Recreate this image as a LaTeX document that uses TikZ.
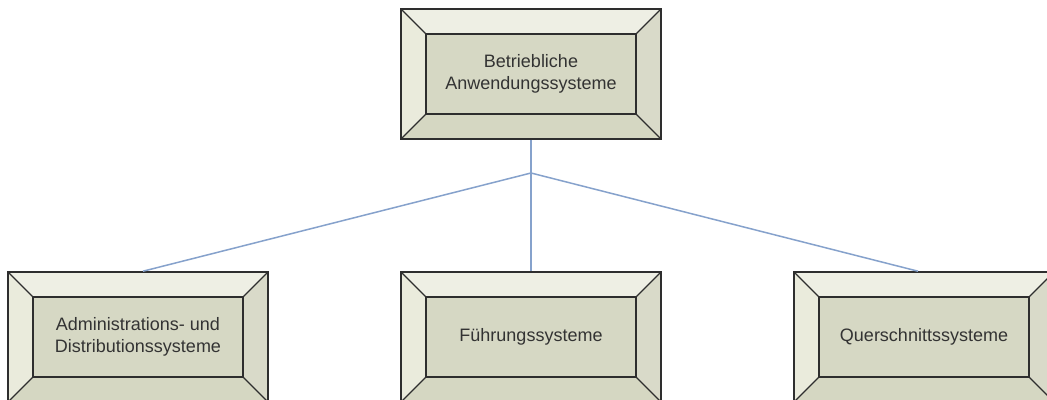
\documentclass[tikz,border=0pt]{standalone}
\usepackage{fontspec}
\setmainfont{Liberation Sans}
\definecolor{bevtop}{HTML}{EEEFE4}
\definecolor{bevleft}{HTML}{EAEBDC}
\definecolor{bevright}{HTML}{D9DAC9}
\definecolor{bevbot}{HTML}{D5D7C2}
\definecolor{innerfill}{HTML}{D6D8C4}
\definecolor{edgecol}{HTML}{2E2E2E}
\definecolor{conncol}{HTML}{86A2CC}
\definecolor{txtcol}{HTML}{333333}
\tikzset{
  outerbox/.style={draw=edgecol, line width=1.6pt, minimum width=260pt, minimum height=130pt, inner sep=0pt},
  innerbox/.style={draw=edgecol, line width=1.4pt, fill=innerfill, minimum width=210pt, minimum height=80pt, inner sep=0pt, align=center, text=txtcol, font=\fontsize{18}{21.7}\selectfont},
  diag/.style={draw=edgecol, line width=1.2pt},
  conn/.style={draw=conncol, line width=1.5pt}
}
\newcommand\bevbox[4]{%
  \fill[bevtop] (#2-130,#3-65) -- (#2+130,#3-65) -- (#2+105,#3-40) -- (#2-105,#3-40) -- cycle;
  \fill[bevbot] (#2-130,#3+65) -- (#2+130,#3+65) -- (#2+105,#3+40) -- (#2-105,#3+40) -- cycle;
  \fill[bevleft] (#2-130,#3-65) -- (#2-105,#3-40) -- (#2-105,#3+40) -- (#2-130,#3+65) -- cycle;
  \fill[bevright] (#2+130,#3-65) -- (#2+105,#3-40) -- (#2+105,#3+40) -- (#2+130,#3+65) -- cycle;
  \draw[diag] (#2-130,#3-65) -- (#2-105,#3-40);
  \draw[diag] (#2+130,#3-65) -- (#2+105,#3-40);
  \draw[diag] (#2-130,#3+65) -- (#2-105,#3+40);
  \draw[diag] (#2+130,#3+65) -- (#2+105,#3+40);
  \node[outerbox] (#1) at (#2,#3) {};
  \node[innerbox] (#1in) at (#2,#3) {#4};
}
\begin{document}
\begin{tikzpicture}[x=1pt,y=-1pt]
\useasboundingbox (0,0) rectangle (1047,399);
\clip (0,0) rectangle (1047,399);
\fill[white] (0,0) rectangle (1047,399);
\bevbox{top}{531}{74}{Betriebliche\\Anwendungssysteme}
\bevbox{left}{138}{337}{Administrations- und\\Distributionssysteme}
\bevbox{mid}{531}{337}{Führungssysteme}
\bevbox{right}{924}{337}{Querschnittssysteme}
\coordinate (j) at (531,173);
\draw[conn] (top.south) -- (j);
\draw[conn] (j) -- ([xshift=5pt]left.north);
\draw[conn] (j) -- (mid.north);
\draw[conn] (j) -- ([xshift=-6pt]right.north);
\end{tikzpicture}
\end{document}
